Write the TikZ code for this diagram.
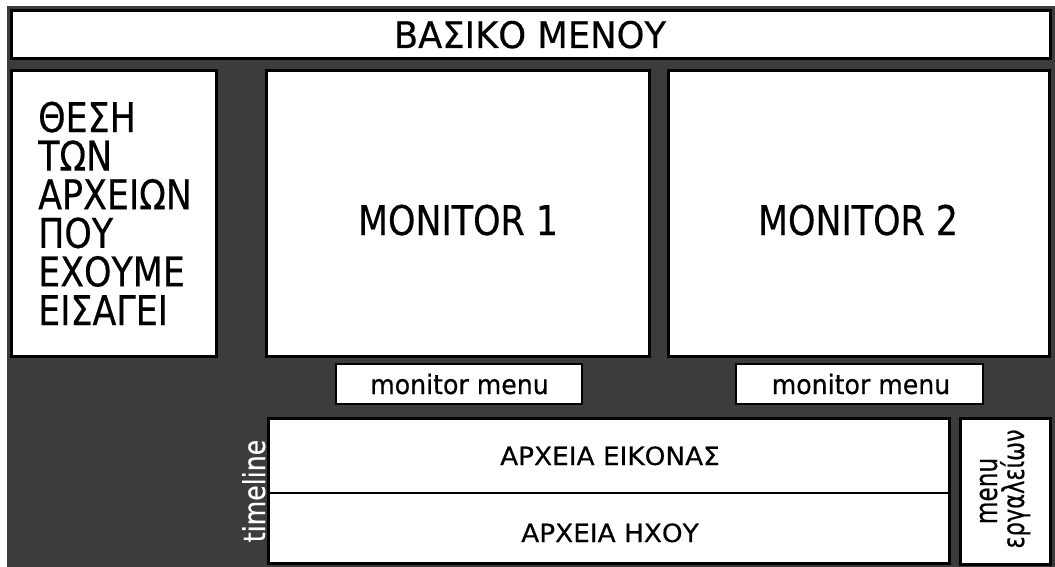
\documentclass[tikz,border=0pt]{standalone}
\usepackage{fontspec}
\setmainfont{DejaVu Sans}
\newfontfamily\fA[FakeStretch=0.966,FakeBold=0.4]{DejaVu Sans}
\newfontfamily\fB[FakeStretch=0.85,FakeBold=0.4]{DejaVu Sans}
\newfontfamily\fC[FakeStretch=0.94,FakeBold=0.4]{DejaVu Sans}
\newfontfamily\fD[FakeStretch=1.05,FakeBold=0.4]{DejaVu Sans}
\newfontfamily\fE[FakeStretch=0.84,FakeBold=0.4]{DejaVu Sans}
\newfontfamily\fF[FakeStretch=0.75,FakeBold=0.4]{DejaVu Sans}
\usetikzlibrary{calc}
\definecolor{bgdark}{RGB}{60,60,60}
\tikzset{
  box/.style={draw=black, line width=3pt, fill=white, rectangle, inner sep=0pt},
  smallbox/.style={draw=black, line width=2.5pt, fill=white, rectangle, inner sep=0pt},
  txt/.style={inner sep=0pt, text=black, anchor=base},
}
\begin{document}
\begin{tikzpicture}[x=1pt,y=-1pt]
\useasboundingbox (0,0) rectangle (1055,567);
\fill[white] (0,0) rectangle (1055,567);
\fill[bgdark] (7,6) rectangle (1055,567);
% boxes
\node[box, minimum width=1039pt, minimum height=48pt] (title) at (531,34.5) {};
\node[box, minimum width=205pt, minimum height=286pt] (files) at (114,213.5) {};
\node[box, minimum width=383pt, minimum height=286pt] (mon1) at (458,213.5) {};
\node[box, minimum width=381pt, minimum height=286pt] (mon2) at (859,213.5) {};
\node[smallbox, minimum width=246pt, minimum height=40pt] (mm1) at (459,384) {};
\node[smallbox, minimum width=247pt, minimum height=40pt] (mm2) at (859.5,384) {};
\node[box, minimum width=681pt, minimum height=145pt] (tl) at (609,491) {};
\node[box, minimum width=90pt, minimum height=145.5pt] (tools) at (1005.5,491.25) {};
\draw[black, line width=1.6pt] ($(tl.west)+(0,1.7)$) -- ($(tl.east)+(0,1.7)$);
% texts
\node[txt, font=\fA\fontsize{36.6}{36.6}\selectfont] (ttitle) at (530,48) {ΒΑΣΙΚΟ ΜΕΝΟΥ};
\node[txt, font=\fB\fontsize{41}{41}\selectfont] (tmon1) at (458,235) {MONITOR 1};
\node[txt, font=\fB\fontsize{41}{41}\selectfont] (tmon2) at (858,235) {MONITOR 2};
\node[inner sep=0pt, anchor=west, align=left, font=\fB\fontsize{41}{38.6}\selectfont] (tfiles) at (38,213.3)
  {ΘΕΣΗ\\ΤΩΝ\\ΑΡΧΕΙΩΝ\\ΠΟΥ\\ΕΧΟΥΜΕ\\ΕΙΣΑΓΕΙ};
\node[txt, font=\fC\fontsize{26.8}{26.8}\selectfont] (tmm1) at (459.5,394) {monitor menu};
\node[txt, font=\fC\fontsize{26.8}{26.8}\selectfont] (tmm2) at (861,394) {monitor menu};
\node[txt, font=\fD\fontsize{25.1}{25.1}\selectfont] (timg) at (610,465) {ΑΡΧΕΙΑ ΕΙΚΟΝΑΣ};
\node[txt, font=\fD\fontsize{25.1}{25.1}\selectfont] (tsnd) at (610,542) {ΑΡΧΕΙΑ ΗΧΟΥ};
\node[txt, rotate=90, text=white, font=\fE\fontsize{30}{30}\selectfont] (ttl) at (265,491) {timeline};
\node[txt, rotate=90, font=\fF\fontsize{31}{31}\selectfont] (tmenu) at (997,491) {menu};
\node[txt, rotate=90, font=\fF\fontsize{30}{30}\selectfont] (ttools) at (1024,489) {εργαλείων};
\end{tikzpicture}
\end{document}
